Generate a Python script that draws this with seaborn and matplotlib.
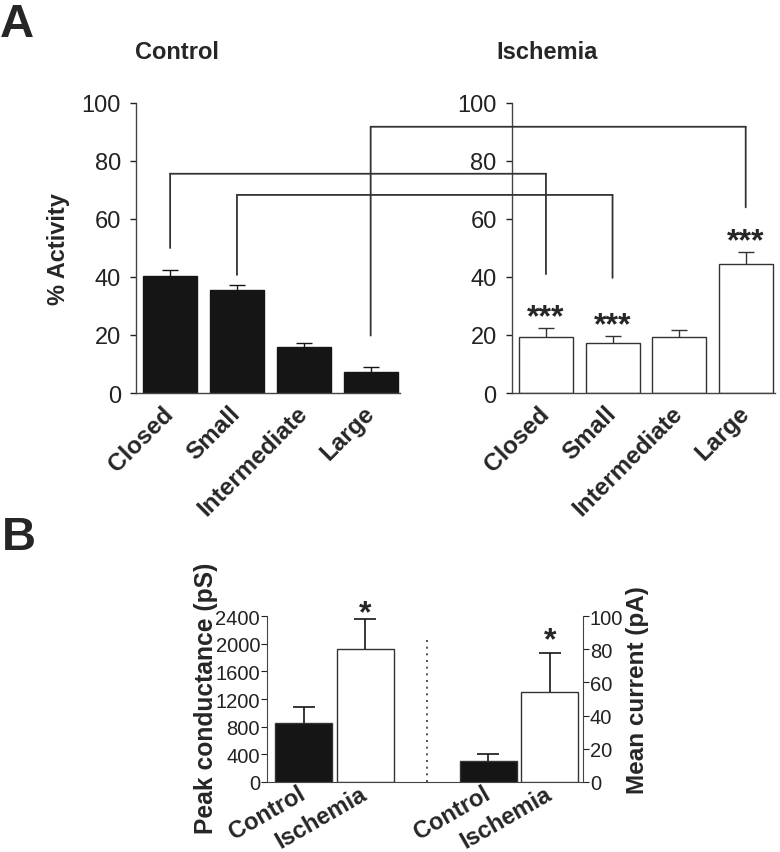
import matplotlib
matplotlib.use('Agg')
import matplotlib.pyplot as plt
import seaborn as sns
from matplotlib.patches import ConnectionPatch

sns.set_style('ticks')
plt.rcParams['font.family'] = ['Liberation Sans', 'DejaVu Sans']

# ── Panel A data (% activity, mean and SEM) ─────────────────────────────────
states = ['Closed', 'Small', 'Intermediate', 'Large']
ctrl_mean = [40.3, 35.6, 15.7, 7.3]
ctrl_sem = [2.2, 1.7, 1.7, 1.7]
isch_mean = [19.4, 17.1, 19.2, 44.4]
isch_sem = [2.9, 2.6, 2.6, 4.2]
isch_stars = ['***', '***', '', '***']

# ── Panel B data ────────────────────────────────────────────────────────────
groups = ['Control', 'Ischemia']
cond_mean = [849, 1920]      # peak conductance (pS)
cond_sem = [242, 442]
curr_mean = [12.4, 54.5]     # mean current (pA)
curr_sem = [4.4, 23.5]

DARK = '#151515'
EDGE = '#333333'

fig = plt.figure(figsize=(7.8, 8.53), dpi=100)
ax1 = fig.add_axes([0.1744, 0.5381, 0.3385, 0.34])
ax2 = fig.add_axes([0.6564, 0.5381, 0.3372, 0.34])


def upper_errorbars(ax, x, means, sems, col, cap, lw):
    eb = ax.errorbar(x, means, yerr=[[0] * len(sems), sems], fmt='none',
                     ecolor=col, elinewidth=lw, capsize=cap, capthick=lw)
    # hide the lower caps, which would sit on the bar tops
    eb[1][0].set_visible(False)


def bar_panel(ax, means, sems, fill, err_col):
    sns.barplot(x=states, y=means, color=fill, edgecolor=EDGE if fill == 'white' else DARK,
                linewidth=1, saturation=1, width=0.81, errorbar=None, ax=ax)
    upper_errorbars(ax, states, means, sems, err_col, 6, 1)
    ax.set_ylim(0, 100)
    ax.set_xlim(-0.51, 3.44)
    ax.set_yticks(range(0, 101, 20))
    ax.tick_params(axis='y', labelsize=17, length=4, width=1, colors='#222', pad=7)
    ax.tick_params(axis='x', length=0, pad=12)
    ax.set_xticks(range(len(states)))
    ax.set_xticklabels(states, rotation=45, ha='right', va='center', rotation_mode='anchor',
                       fontsize=17.5, fontweight='bold')
    for s in ['top', 'right']:
        ax.spines[s].set_visible(False)
    for s in ['left', 'bottom']:
        ax.spines[s].set_color('#444')
        ax.spines[s].set_linewidth(1)
    ax.set_xlabel('')


bar_panel(ax1, ctrl_mean, ctrl_sem, DARK, DARK)
bar_panel(ax2, isch_mean, isch_sem, 'white', EDGE)
ax1.set_ylabel('% Activity', fontsize=17, fontweight='bold', labelpad=8)
ax2.set_ylabel('')

for i, st in enumerate(isch_stars):
    if st:
        ax2.text(states[i], isch_mean[i] + isch_sem[i] - 1.4, st, ha='center', va='bottom',
                 fontsize=23, fontweight='bold')

fig.text(0.173, 0.938, 'Control', fontsize=17, fontweight='bold', ha='left', va='center')
fig.text(0.637, 0.938, 'Ischemia', fontsize=17, fontweight='bold', ha='left', va='center')
fig.text(0.0, 1 - 37 / 853, 'A', fontsize=34, fontweight='bold', ha='left', va='baseline')
fig.text(0.003, 1 - 550 / 853, 'B', fontsize=34, fontweight='bold', ha='left', va='baseline')

# brackets linking control and ischemia bars: (bar, left end, top, right end)
brackets = [('Closed', 50, 75.6, 41), ('Small', 40.7, 68.3, 39.7), ('Large', 19.8, 91.8, 64)]
for cat, lo_l, hi, lo_r in brackets:
    segs = [((cat, lo_l), ax1, (cat, hi), ax1),
            ((cat, hi), ax1, (cat, hi), ax2),
            ((cat, hi), ax2, (cat, lo_r), ax2)]
    for pa, axa, pb, axb_ in segs:
        cp = ConnectionPatch(xyA=pa, coordsA='data', axesA=axa, xyB=pb, coordsB='data',
                             axesB=axb_, arrowstyle='-', color='#333', lw=1.3)
        fig.add_artist(cp)

# ── Panel B ─────────────────────────────────────────────────────────────────
axb = fig.add_axes([0.3423, 0.0824, 0.4051, 0.1939])
axb2 = axb.twinx()
pal = {'Control': DARK, 'Ischemia': 'white'}

sns.barplot(x=[0, 1], y=cond_mean, hue=groups, palette=pal, native_scale=True,
            edgecolor=EDGE, linewidth=1, saturation=1, width=0.93, errorbar=None,
            legend=False, ax=axb)
upper_errorbars(axb, [0, 1], cond_mean, cond_sem, DARK, 8, 1.2)
sns.barplot(x=[3, 4], y=curr_mean, hue=groups, palette=pal, native_scale=True,
            edgecolor=EDGE, linewidth=1, saturation=1, width=0.93, errorbar=None,
            legend=False, ax=axb2)
upper_errorbars(axb2, [3, 4], curr_mean, curr_sem, DARK, 8, 1.2)

axb.set_ylim(0, 2400)
axb.set_yticks(range(0, 2401, 400))
axb2.set_ylim(0, 100)
axb2.set_yticks(range(0, 101, 20))
axb.set_xlim(-0.6, 4.54)
axb.set_xticks([0, 1, 3, 4])
axb.set_xticklabels(groups + groups, rotation=30, ha='right', va='center',
                    rotation_mode='anchor', fontsize=17, fontweight='bold')
axb.tick_params(axis='x', length=0, pad=7)
axb.tick_params(axis='y', labelsize=14.5, length=4, colors='#222', pad=1)
axb2.tick_params(axis='y', labelsize=14.5, length=4, colors='#222', pad=1)
axb.axvline(2.0, ymin=0, ymax=2100 / 2400, color='#333', lw=1.2, ls=(0, (1.2, 2.8)))

axb.text(1, cond_mean[1] + cond_sem[1] - 130, '*', ha='center', va='bottom',
         fontsize=23, fontweight='bold')
axb2.text(4, curr_mean[1] + curr_sem[1] - 1.6, '*', ha='center', va='bottom',
          fontsize=23, fontweight='bold')

axb.set_ylabel('Peak conductance (pS)', fontsize=17.7, fontweight='bold')
axb2.set_ylabel('Mean current (pA)', fontsize=17.5, fontweight='bold')
axb.yaxis.set_label_coords(-0.155, 0.509)
axb2.yaxis.set_label_coords(1.137, 0.56)
axb.set_xlabel('')
axb2.set_xlabel('')
for a in (axb, axb2):
    a.spines['top'].set_visible(False)
    for s in ['left', 'right', 'bottom']:
        a.spines[s].set_color('#444')
axb.spines['right'].set_visible(False)
axb2.spines['left'].set_visible(False)
axb2.spines['bottom'].set_visible(False)

fig.savefig('out.png', dpi=100)
